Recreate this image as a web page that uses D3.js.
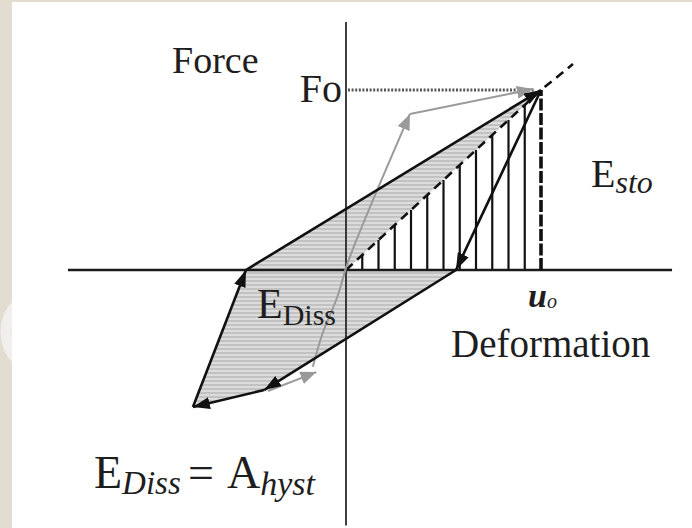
<!DOCTYPE html>
<html>
<head>
<meta charset="utf-8">
<script src="https://cdn.jsdelivr.net/npm/d3@7"></script>
<style>
  html, body { margin: 0; padding: 0; background: #ffffff; }
  svg { display: block; }
  text { font-family: "Liberation Serif", "Times New Roman", serif; fill: #1e1e1e; }
</style>
</head>
<body>
<svg id="chart" width="692" height="528"></svg>
<script>
// Force–deformation hysteresis loop (normalised: u0 = 1, F0 = 1)
const peak = [1, 1];                       // (u0, F0)
const topBranch = [[-0.513, 0], [1, 1]];   // reloading branch up to the peak
const unloadBranch = [[1, 1], [0.564, 0]];
const lowerBranch = [[0.564, 0], [-0.42, -0.667]];
const bottomBranch = [[-0.42, -0.667], [-0.785, -0.761]];
const leftBranch = [[-0.785, -0.761], [-0.513, 0]];
// Dissipated-energy area (loop minus the stored-energy triangle)
const dissArea = [[-0.513, 0], [1, 1], [0, 0], [0.564, 0], [-0.42, -0.667], [-0.785, -0.761]];
// Secant (elastic) line and its extension beyond the peak
const secant = [[0, 0], [1, 1], [1.164, 1.144]];
// Stored-energy hatch positions (fractions of u0)
const hatchX = [1, 2, 3, 4, 5, 6, 7, 8, 9, 10, 11].map(k => k / 12);
// Grey path of the following cycle
const grayLower = [[-0.40, -0.672], [-0.152, -0.567]];
const grayRise = [[-0.17, -0.538], [-0.123, -0.361], [-0.041, -0.139], [0.01, 0.044], [0.328, 0.867]];
const grayTop = [[0.328, 0.867], [0.958, 1.005]];
// Axis extents
const xAxisExtent = [-1.426, 1.672];
const yAxisExtent = [-1.42, 1.378];

const svg = d3.select("#chart");
const W = 692, H = 528;

const x = d3.scaleLinear().domain([0, 1]).range([346, 541]);
const y = d3.scaleLinear().domain([0, 1]).range([270, 90]);
const line = d3.line().x(d => x(d[0])).y(d => y(d[1]));

// page frame
svg.append("rect").attr("width", W).attr("height", H).attr("fill", "#e2dcd1");
svg.append("rect").attr("x", 12).attr("y", 2).attr("width", W - 12).attr("height", H - 2).attr("fill", "#ffffff");
const defs = svg.append("defs");
defs.append("clipPath").attr("id", "strip").append("rect").attr("x", 0).attr("y", 0).attr("width", 12).attr("height", H);
svg.append("circle").attr("cx", 46).attr("cy", 332).attr("r", 40)
  .attr("fill", "none").attr("stroke", "#f0efed").attr("stroke-width", 11)
  .attr("clip-path", "url(#strip)");

// horizontal stripe pattern for the dissipated area
const pat = defs.append("pattern").attr("id", "stripes")
  .attr("patternUnits", "userSpaceOnUse").attr("width", 8).attr("height", 4);
pat.append("rect").attr("width", 8).attr("height", 4).attr("fill", "#dcdcdc");
pat.append("rect").attr("width", 8).attr("height", 2).attr("fill", "#c2c2c2");

// arrow markers
function marker(id, color, len, wid) {
  defs.append("marker").attr("id", id)
    .attr("viewBox", `0 0 ${len} ${wid}`)
    .attr("refX", len).attr("refY", wid / 2)
    .attr("markerWidth", len).attr("markerHeight", wid)
    .attr("markerUnits", "userSpaceOnUse")
    .attr("orient", "auto")
    .append("path").attr("d", `M0,0 L${len},${wid / 2} L0,${wid} Z`).attr("fill", color);
}
marker("arrBlack", "#111", 17, 12);
marker("arrGray", "#9a9a9a", 16, 13);

// dissipated energy area
svg.append("path").attr("d", line(dissArea) + "Z").attr("fill", "url(#stripes)");

// stored energy hatching
svg.append("g").selectAll("line").data(hatchX).join("line")
  .attr("x1", d => x(d)).attr("x2", d => x(d))
  .attr("y1", y(0)).attr("y2", d => y(d))
  .attr("stroke", "#111").attr("stroke-width", 2.2);

// axes
svg.append("line")
  .attr("x1", x(xAxisExtent[0])).attr("x2", x(xAxisExtent[1]))
  .attr("y1", y(0)).attr("y2", y(0))
  .attr("stroke", "#1a1a1a").attr("stroke-width", 2.6);
svg.append("line")
  .attr("x1", x(0)).attr("x2", x(0))
  .attr("y1", y(yAxisExtent[1])).attr("y2", y(yAxisExtent[0]))
  .attr("stroke", "#2a2a2a").attr("stroke-width", 1.8);

// F0 dotted reference
svg.append("line")
  .attr("x1", x(0) + 2).attr("x2", x(peak[0]) - 6)
  .attr("y1", y(peak[1])).attr("y2", y(peak[1]))
  .attr("stroke", "#555").attr("stroke-width", 3).attr("stroke-dasharray", "2,1.6");

// u0 vertical dashed
svg.append("line")
  .attr("x1", x(peak[0])).attr("x2", x(peak[0]))
  .attr("y1", y(0)).attr("y2", y(peak[1]))
  .attr("stroke", "#111").attr("stroke-width", 3.6).attr("stroke-dasharray", "12,2.5");

// secant dashed line
svg.append("path").attr("d", line(secant)).attr("fill", "none")
  .attr("stroke", "#111").attr("stroke-width", 2.6).attr("stroke-dasharray", "9,6");

// grey path of the next cycle
[grayLower, grayTop].forEach(seg => {
  svg.append("path").attr("d", line(seg)).attr("fill", "none")
    .attr("stroke", "#9a9a9a").attr("stroke-width", 2)
    .attr("marker-end", "url(#arrGray)");
});
svg.append("path").attr("d", line.curve(d3.curveCatmullRom)(grayRise)).attr("fill", "none")
  .attr("stroke", "#9a9a9a").attr("stroke-width", 2)
  .attr("marker-end", "url(#arrGray)");
line.curve(d3.curveLinear);

// hysteresis loop branches
[topBranch, unloadBranch, lowerBranch, bottomBranch, leftBranch].forEach(seg => {
  svg.append("path").attr("d", line(seg)).attr("fill", "none")
    .attr("stroke", "#111").attr("stroke-width", 2.6)
    .attr("marker-end", "url(#arrBlack)");
});

// labels
function label(tx, ty, parts) {
  const t = svg.append("text").attr("x", tx).attr("y", ty);
  parts.forEach(p => {
    t.append("tspan").text(p.t)
      .attr("font-size", p.s)
      .attr("font-style", p.i ? "italic" : null)
      .attr("font-weight", p.b ? "bold" : null)
      .attr("dy", p.dy || 0)
      .attr("dx", p.dx || 0);
  });
  return t;
}
label(172, 73, [{ t: "Force", s: 38 }]);
label(x(0) - 4, y(peak[1]) + 12, [{ t: "Fo", s: 40 }]).attr("text-anchor", "end");
label(591, 187, [{ t: "E", s: 40 }, { t: "sto", s: 32, i: true, dy: 6 }]);
label(528, 307, [{ t: "u", s: 34, i: true, b: true }, { t: "o", s: 20, i: true, dy: 1 }]);
label(451, 357, [{ t: "Deformation", s: 39 }]);
label(257, 318, [{ t: "E", s: 42 }, { t: "Diss", s: 30, dy: 7 }]);
label(94, 488, [{ t: "E", s: 46 }, { t: "Diss", s: 33, i: true, dy: 6 }]);
label(188, 488, [{ t: "=", s: 46 }]);
label(227, 488, [{ t: "A", s: 46 }, { t: "hyst", s: 34, i: true, dy: 7 }]);
</script>
</body>
</html>
